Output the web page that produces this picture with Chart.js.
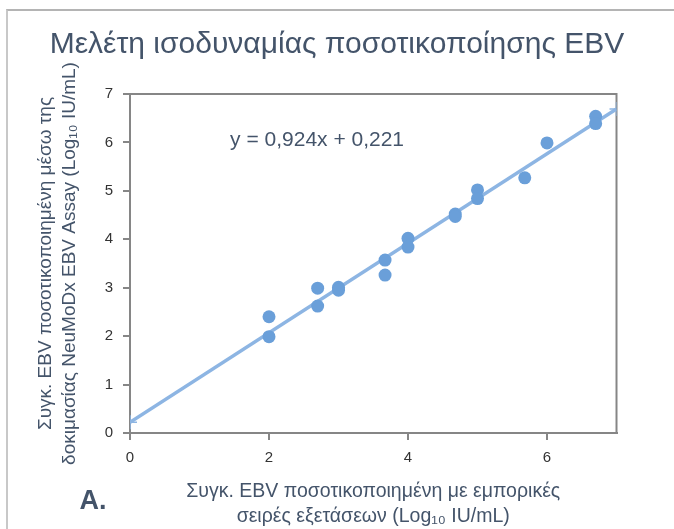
<!DOCTYPE html>
<html>
<head>
<meta charset="utf-8">
<script src="https://cdn.jsdelivr.net/npm/chart.js@4"></script>
<style>
  html, body { margin: 0; padding: 0; background: #ffffff; }
  #wrap { position: relative; width: 674px; height: 529px; overflow: hidden; }
  #frame { position: absolute; left: 6px; top: 9px; width: 700px; height: 560px;
           border-top: 2px solid #b4b4b4; border-left: 2px solid #c8c8c8; }
  canvas { position: absolute; left: 0; top: 0; }
</style>
</head>
<body>
<div id="wrap">
  <div id="frame"></div>
  <canvas id="c" width="674" height="529"></canvas>
</div>
<script>
// ---- data ----
const chartTitle = 'Μελέτη ισοδυναμίας ποσοτικοποίησης EBV';
const xTitle = ['Συγκ. EBV ποσοτικοποιημένη με εμπορικές', 'σειρές εξετάσεων (Log₁₀ IU/mL)'];
const yTitle = ['Συγκ. EBV ποσοτικοποιημένη μέσω της', 'δοκιμασίας NeuMoDx EBV Assay (Log₁₀ IU/mL)'];
const equationText = 'y = 0,924x + 0,221';
const panelLabel = 'A.';

const xValues = [2.0, 2.0, 2.7, 2.7, 3.0, 3.0, 3.67, 3.67, 4.0, 4.0, 4.68, 4.68, 5.0, 5.0, 5.68, 6.0, 6.7, 6.7];
const yValues = [2.40, 1.99, 2.99, 2.62, 3.01, 2.95, 3.57, 3.26, 4.02, 3.84, 4.52, 4.47, 5.02, 4.84, 5.27, 5.99, 6.54, 6.39];

const trendX = [0, 7];
const trendY = [0.221, 6.689];

const xTicks = [0, 2, 4, 6];
const yTicks = [0, 1, 2, 3, 4, 5, 6, 7];
const xRange = [0, 7];
const yRange = [0, 7];

// ---- styles ----
const FONT = "'Liberation Sans', Arial, sans-serif";
const textColor = '#44546a';
const tickColor = '#333333';
const axisGray = '#868686';
const pointColor = '#6a9fd9';
const lineColor = '#8db5e3';

const scatterPoints = xValues.map((x, i) => ({ x: x, y: yValues[i] }));
const trendPoints = trendX.map((x, i) => ({ x: x, y: trendY[i] }));

const extras = {
  id: 'extras',
  beforeDatasetsDraw(chart) {
    const { ctx, chartArea: a } = chart;
    ctx.save();
    ctx.strokeStyle = axisGray;
    ctx.lineWidth = 2;
    ctx.strokeRect(a.left, a.top, a.right - a.left, a.bottom - a.top);
    ctx.restore();
  },
  afterDraw(chart) {
    const { ctx } = chart;
    const xs = chart.scales.x, ys = chart.scales.y;
    ctx.save();
    ctx.fillStyle = textColor;
    ctx.textBaseline = 'middle';
    ctx.textAlign = 'left';
    ctx.font = '21px ' + FONT;
    ctx.fillText(equationText, xs.getPixelForValue(1.44), ys.getPixelForValue(6.05));
    ctx.font = 'bold 27px ' + FONT;
    ctx.textAlign = 'center';
    ctx.fillText(panelLabel, 93, 502);
    ctx.restore();
  }
};

new Chart(document.getElementById('c'), {
  type: 'scatter',
  data: {
    datasets: [
      {
        type: 'line',
        label: 'Trend',
        data: trendPoints,
        borderColor: lineColor,
        borderWidth: 3.5,
        pointStyle: 'cross',
        pointRadius: 7,
        pointBorderWidth: 1.5,
        pointBorderColor: lineColor,
        fill: false,
        tension: 0,
        order: 2
      },
      {
        label: 'EBV',
        data: scatterPoints,
        backgroundColor: pointColor,
        borderColor: pointColor,
        borderWidth: 0,
        pointRadius: 6.5,
        order: 1
      }
    ]
  },
  options: {
    responsive: false,
    animation: false,
    devicePixelRatio: 1,
    layout: { padding: { left: 0, top: 0, right: 0, bottom: 0 } },
    plugins: {
      legend: { display: false },
      tooltip: { enabled: false },
      title: {
        display: true,
        text: chartTitle,
        color: textColor,
        font: { family: FONT, size: 30, weight: 'normal', lineHeight: 1.2 },
        padding: { top: 27, bottom: 31 }
      }
    },
    scales: {
      x: {
        type: 'linear',
        min: xRange[0], max: xRange[1],
        afterFit(s) { s.height = 96; },
        afterBuildTicks(s) { s.ticks = xTicks.map(v => ({ value: v })); },
        grid: { drawOnChartArea: false, drawTicks: true, tickLength: 7, color: axisGray, lineWidth: 2 },
        border: { display: true, color: axisGray, width: 2 },
        ticks: { color: tickColor, padding: 9, font: { family: FONT, size: 15 } },
        title: {
          display: true, text: xTitle, color: textColor,
          font: { family: FONT, size: 19.5, lineHeight: 1.28 },
          padding: { top: 0, bottom: 0 }
        }
      },
      y: {
        type: 'linear',
        min: yRange[0], max: yRange[1],
        afterFit(s) { s.width = 130; },
        afterBuildTicks(s) { s.ticks = yTicks.map(v => ({ value: v })); },
        grid: { drawOnChartArea: false, drawTicks: true, tickLength: 7, color: axisGray, lineWidth: 2 },
        border: { display: true, color: axisGray, width: 2 },
        ticks: { color: tickColor, padding: 10, font: { family: FONT, size: 15 } },
        title: {
          display: true, text: yTitle, color: textColor,
          font: { family: FONT, size: 19, lineHeight: 1.3 },
          padding: { top: 33, bottom: 0 }
        }
      },
      yRight: {
        type: 'linear',
        position: 'right',
        min: yRange[0], max: yRange[1],
        afterFit(s) { s.width = 57.5; },
        grid: { display: false, drawTicks: false },
        border: { display: false },
        ticks: { display: false }
      }
    }
  },
  plugins: [extras]
});
</script>
</body>
</html>
